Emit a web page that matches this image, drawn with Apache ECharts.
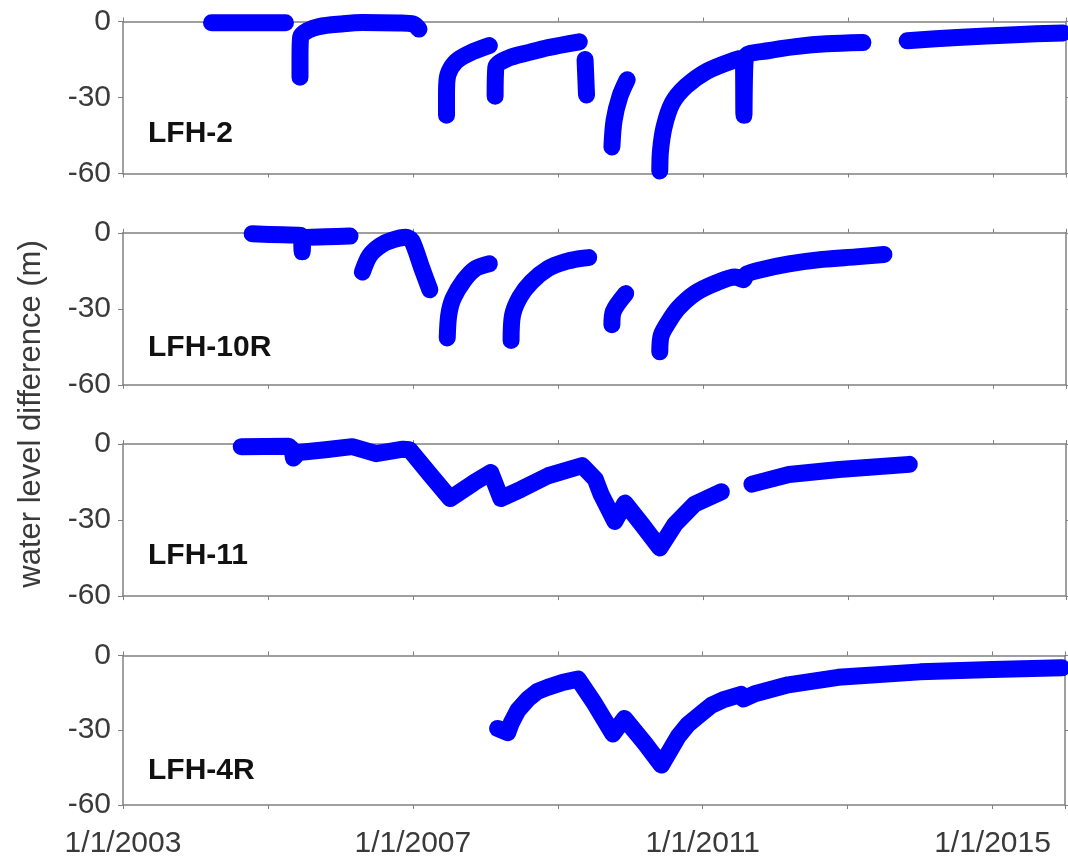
<!DOCTYPE html>
<html>
<head>
<meta charset="utf-8">
<title>Water level difference</title>
<script src="https://cdn.jsdelivr.net/npm/echarts@6/dist/echarts.min.js"></script>
<style>
  html, body { margin: 0; padding: 0; background: #fff; }
  #chart { width: 1068px; height: 859px; }
</style>
</head>
<body>
<div id="chart"></div>
<script>
// well names, one panel each (top to bottom)
const wells = ['LFH-2', 'LFH-10R', 'LFH-11', 'LFH-4R'];

// x ticks every 2 years, labelled every 4 years
const labelYears = [2003, 2007, 2011, 2015];
const yTicks = [-60, -30, 0];

// decimal years / water level difference (m); null = gap in record
const lfh2Years = [
  2004.22, 2004.7, 2005.24, null,
  2005.44, 2005.44, 2005.45, 2005.55, 2005.7, 2006.0, 2006.3, 2006.8, 2007.0, 2007.08, null,
  2007.46, 2007.46, 2007.48, 2007.59, 2007.78, 2008.05, null,
  2008.13, 2008.14, 2008.31, 2008.6, 2008.86, 2009.29, null,
  2009.37, 2009.38, 2009.39, null,
  2009.74, 2009.77, 2009.85, 2009.95, null,
  2010.40, 2010.41, 2010.46, 2010.57, 2010.76, 2011.05, 2011.43, 2011.55, 2011.56, 2011.58, 2011.9, 2012.3, 2012.7, 2013.2, null,
  2013.81, 2014.5, 2015.3, 2015.96
];
const lfh2Levels = [
  -0.5, -0.5, -0.5, null,
  -22, -14, -6, -3.5, -2, -1, -0.4, -0.6, -1, -3, null,
  -37, -28, -21, -15.8, -12.5, -9.5, null,
  -29.5, -18, -14.5, -12.2, -10.3, -8, null,
  -15, -22, -29, null,
  -49.5, -39, -29.6, -23, null,
  -59, -51, -41.6, -32.3, -25.6, -19.6, -15.2, -14.5, -37, -14.2, -11.5, -9.8, -8.8, -8.3, null,
  -7.6, -6.3, -5.2, -4.5
];

const lfh10rYears = [
  2004.78, 2005.2, 2005.45, 2005.47, 2005.49, 2005.8, 2006.13, null,
  2006.30, 2006.40, 2006.55, 2006.7, 2006.9, 2006.98, 2007.12, 2007.23, null,
  2007.47, 2007.49, 2007.55, 2007.70, 2007.86, 2008.05, null,
  2008.35, 2008.37, 2008.47, 2008.63, 2008.86, 2009.09, 2009.30, 2009.42, null,
  2009.74, 2009.76, 2009.93, null,
  2010.40, 2010.42, 2010.52, 2010.65, 2010.88, 2011.16, 2011.44, 2011.55, 2011.6, 2011.81, 2012.18, 2012.64, 2013.10, 2013.49
];
const lfh10rLevels = [
  -0.4, -0.8, -1, -7.5, -2, -1.6, -1.3, null,
  -15.5, -9, -5, -3, -1.8, -3, -14, -22.5, null,
  -41.5, -32.6, -26, -18.8, -14.1, -12.2, null,
  -42.5, -32.6, -25.4, -19.4, -14.1, -11.5, -10.2, -9.8, null,
  -36.3, -31, -24, null,
  -47, -40.5, -35.2, -29.9, -24, -20, -17.4, -18.5, -16.3, -14.5, -12.3, -10.5, -9.5, -8.6
];

const lfh11Years = [
  2004.63, 2005.28, 2005.33, 2005.35, 2005.42, 2005.79, 2006.16, 2006.35, 2006.49, 2006.86, 2006.95,
  2007.23, 2007.51, 2007.84, 2008.07, 2008.21, 2008.49, 2008.86, 2009.33, 2009.51, 2009.59, 2009.78,
  2009.92, 2010.15, 2010.40, 2010.61, 2010.88, 2011.25, null,
  2011.67, 2012.18, 2012.87, 2013.84
];
const lfh11Levels = [
  -1, -0.8, -2, -5.5, -3.3, -2.2, -1, -2.6, -3.8, -2, -2.2,
  -11.9, -21.5, -15.2, -11.2, -21.5, -17.8, -12.5, -8.5, -13.8, -19.8, -30.5,
  -23.3, -31.6, -41, -31.6, -23.7, -18.8, null,
  -15.8, -12, -10, -8
];

const lfh4rYears = [
  2008.17, 2008.31, 2008.36, 2008.45, 2008.49, 2008.59, 2008.72, 2008.86, 2009.07, 2009.28,
  2009.51, 2009.76, 2009.92, 2010.20, 2010.43, 2010.66, 2010.80, 2010.98, 2011.12, 2011.30,
  2011.53, 2011.56, 2011.72, 2012.18, 2012.64, 2012.87, 2014.0, 2015.0, 2015.96
];
const lfh4rLevels = [
  -29.3, -31, -27, -22, -20.7, -17.4, -14.4, -12.8, -10.8, -9.5,
  -19.4, -31.5, -25.3, -35.2, -44, -32.6, -27.6, -23.3, -20, -17.6,
  -15.6, -17.5, -15.4, -11.8, -9.8, -8.8, -6.6, -5.7, -5
];

const wellYears = [lfh2Years, lfh10rYears, lfh11Years, lfh4rYears];
const wellLevels = [lfh2Levels, lfh10rLevels, lfh11Levels, lfh4rLevels];

const FONT = 'Arial, "Liberation Sans", sans-serif';
const AXIS_GREY = '#808080';
const TEXT_GREY = '#3a3a3a';

const panelTops = [21.5, 232.8, 444.1, 655.4];
const panelHeight = 152;
const labelOffsets = [112, 115, 112, 115];
// recovery curves in the top two wells are smooth, the lower two are sawtooth
const smoothing = [0.3, 0.3, 0, 0];

const chart = echarts.init(document.getElementById('chart'));

const grids = [];
const xAxes = [];
const yAxes = [];
const series = [];
const graphics = [];

wells.forEach((name, i) => {
  grids.push({ left: 123, right: 2, top: panelTops[i], height: panelHeight });

  const isBottom = i === wells.length - 1;
  // bottom x axis
  xAxes.push({
    type: 'value', gridIndex: i, position: 'bottom',
    min: 2003, max: 2016, interval: 2,
    axisLine: { onZero: false, lineStyle: { color: AXIS_GREY, width: 1.5 } },
    axisTick: { inside: false, length: 4, lineStyle: { color: AXIS_GREY } },
    splitLine: { show: false },
    axisLabel: {
      show: isBottom, margin: 24, fontSize: 30, color: TEXT_GREY, fontFamily: FONT,
      formatter: v => labelYears.includes(v) ? '1/1/' + v : ''
    }
  });
  // left y axis
  yAxes.push({
    type: 'value', gridIndex: i, position: 'left',
    min: yTicks[0], max: yTicks[yTicks.length - 1], interval: 30,
    axisLine: { show: true, lineStyle: { color: AXIS_GREY, width: 1.5 } },
    axisTick: { show: true, inside: false, length: 5, lineStyle: { color: AXIS_GREY } },
    splitLine: { show: false },
    axisLabel: { margin: 12, fontSize: 30, color: TEXT_GREY, fontFamily: FONT }
  });

  const data = wellYears[i].map((yr, k) =>
    yr == null ? ['-', '-'] : [yr, wellLevels[i][k]]);
  series.push({
    name, type: 'line', xAxisIndex: i, yAxisIndex: i,
    data, showSymbol: false, symbol: 'none', connectNulls: false,
    clip: false, smooth: smoothing[i], silent: true,
    lineStyle: { color: '#0000ff', width: 17, cap: 'round', join: 'round' }
  });

  graphics.push({
    type: 'text', x: 148, y: panelTops[i] + labelOffsets[i], z: 10,
    style: { text: name, font: 'bold 30px ' + FONT, fill: '#111', verticalAlign: 'middle' }
  });
});

// mirrored box: top and right axes, ticks only
wells.forEach((name, i) => {
  xAxes.push({
    type: 'value', gridIndex: i, position: 'top',
    min: 2003, max: 2016, interval: 2,
    axisLine: { onZero: false, lineStyle: { color: AXIS_GREY, width: 1.5 } },
    axisTick: { inside: false, length: 4, lineStyle: { color: AXIS_GREY } },
    splitLine: { show: false }, axisLabel: { show: false }
  });
  yAxes.push({
    type: 'value', gridIndex: i, position: 'right',
    min: -60, max: 0, interval: 30,
    axisLine: { show: true, onZero: false, lineStyle: { color: AXIS_GREY, width: 1.5 } },
    axisTick: { show: true, inside: false, length: 4, lineStyle: { color: AXIS_GREY } },
    splitLine: { show: false }, axisLabel: { show: false }
  });
});

graphics.push({
  type: 'text', x: 31, y: 414, rotation: Math.PI / 2,
  style: {
    text: 'water level difference (m)', font: '31px ' + FONT, fill: TEXT_GREY,
    align: 'center', verticalAlign: 'middle'
  }
});

chart.setOption({
  animation: false,
  backgroundColor: '#fff',
  grid: grids,
  xAxis: xAxes,
  yAxis: yAxes,
  series,
  graphic: graphics
});
</script>
</body>
</html>
